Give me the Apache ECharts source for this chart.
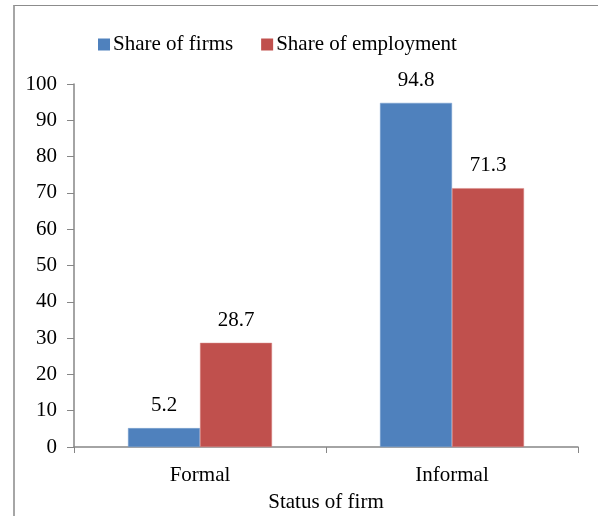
<!DOCTYPE html>
<html>
<head>
<meta charset="utf-8">
<script src="https://cdn.jsdelivr.net/npm/echarts@6/dist/echarts.min.js"></script>
<style>
  body { margin: 0; background: #fff; }
  #frame {
    position: absolute; left: 13px; top: 5px; width: 600px; height: 520px;
    border-left: 2px solid #a6a6a6; border-top: 1px solid #8c8c8c;
  }
  #chart { position: absolute; left: 0; top: 0; width: 598px; height: 516px; }
</style>
</head>
<body>
<div id="frame"></div>
<div id="chart"></div>
<script>
  const categories = ["Formal", "Informal"];
  const shareOfFirms = [5.2, 94.8];
  const shareOfEmployment = [28.7, 71.3];
  const seriesNames = ["Share of firms", "Share of employment"];

  const font = "'Liberation Serif', 'Times New Roman', serif";
  const fontSize = 21;
  const axisGray = "#868686";

  const chart = echarts.init(document.getElementById("chart"));

  const option = {
    animation: false,
    textStyle: { fontFamily: font },
    legend: {
      data: seriesNames,
      top: 29,
      left: 93,
      itemWidth: 12,
      itemHeight: 12,
      itemGap: 28,
      icon: "rect",
      itemStyle: { borderWidth: 0 },
      textStyle: { fontFamily: font, fontSize: fontSize, color: "#000", padding: [0, 0, 0, -2] }
    },
    grid: { left: 74, top: 84, width: 504, height: 363, outerBoundsMode: "none", containLabel: false },
    xAxis: {
      type: "category",
      data: categories,
      name: "Status of firm",
      nameLocation: "middle",
      nameGap: 45,
      nameTextStyle: { fontFamily: font, fontSize: fontSize, color: "#000" },
      axisLine: { lineStyle: { color: axisGray, width: 1.5 } },
      axisTick: { show: true, length: 6, lineStyle: { color: axisGray } },
      axisLabel: { fontFamily: font, fontSize: fontSize, color: "#000", margin: 18 }
    },
    yAxis: {
      type: "value",
      min: 0,
      max: 100,
      interval: 10,
      splitLine: { show: false },
      axisLine: { show: true, lineStyle: { color: axisGray, width: 1.5 } },
      axisTick: { show: true, length: 7, lineStyle: { color: axisGray } },
      axisLabel: { fontFamily: font, fontSize: fontSize, color: "#000", margin: 17 }
    },
    series: [
      {
        name: seriesNames[0],
        type: "bar",
        data: shareOfFirms,
        barWidth: 72,
        barGap: "0%",
        itemStyle: { color: "#4F81BD", borderColor: "#7aa0d0", borderWidth: 0.5 },
        label: { show: true, position: "top", distance: 12, fontFamily: font, fontSize: fontSize, color: "#000" }
      },
      {
        name: seriesNames[1],
        type: "bar",
        data: shareOfEmployment,
        barWidth: 72,
        barGap: "0%",
        itemStyle: { color: "#C0504D", borderColor: "#d88a88", borderWidth: 0.5 },
        label: { show: true, position: "top", distance: 12, fontFamily: font, fontSize: fontSize, color: "#000" }
      }
    ]
  };

  chart.setOption(option);
</script>
</body>
</html>
